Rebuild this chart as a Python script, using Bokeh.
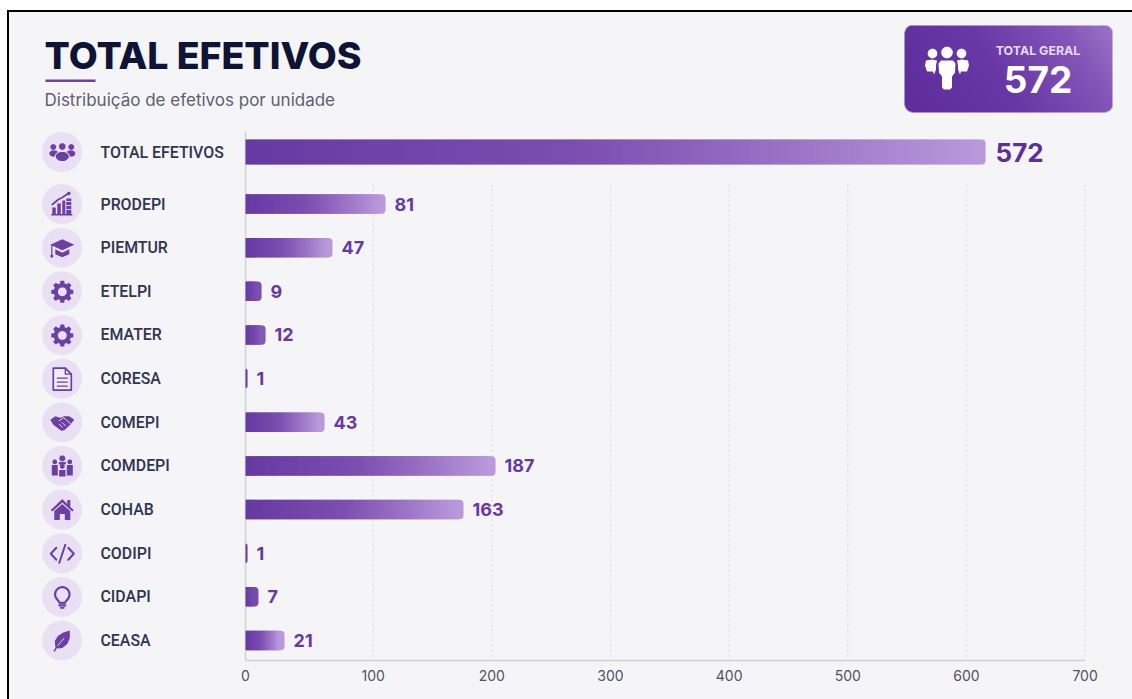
import numpy as np
from bokeh.plotting import figure
from bokeh.embed import file_html
from bokeh.resources import INLINE
from bokeh.core.properties import value
from bokeh.models import Range1d, FixedTicker, LinearAxis

# ---- data ----
units = ["TOTAL EFETIVOS", "PRODEPI", "PIEMTUR", "ETELPI", "EMATER", "CORESA",
         "COMEPI", "COMDEPI", "COHAB", "CODIPI", "CIDAPI", "CEASA"]
printed_values = [572, 81, 47, 9, 12, 1, 43, 187, 163, 1, 7, 21]
# bar lengths as drawn in the reference, read against its axis (they differ from the printed values)
bar_lengths = [623.7, 118.0, 73.3, 13.5, 16.9, 1.7, 66.6, 210.7, 183.7, 1.7, 10.9, 32.9]
tick_values = [100, 200, 300, 400, 500, 600, 700]
axis_origin = -7.6      # the "0" tick of the reference sits left of a straight 100..700 scale

# ---- layout ----
W, H = 1132, 699
PX_PER_UNIT = 1.1865
ROW_PX = 43.65
FRAME_BOTTOM = 660

def X(px):
    return 100 + (np.asarray(px, dtype=float) - 372.7) / PX_PER_UNIT

def Y(py):
    return 11 - (np.asarray(py, dtype=float) - 203.5) / ROW_PX

row_y = [11 + 52 / ROW_PX] + [11 - i for i in range(11)]
row_py = [203.5 + (11 - y) * ROW_PX for y in row_y]

p = figure(width=W, height=H, output_backend="svg", toolbar_location=None,
           x_range=Range1d(float(X(0)), float(X(W))),
           y_range=Range1d(float(Y(FRAME_BOTTOM)), float(Y(0))),
           min_border=0, min_border_bottom=H - FRAME_BOTTOM, outline_line_color=None,
           background_fill_color=None, border_fill_color=None,
           x_axis_location=None, y_axis_location=None)
p.grid.visible = False
# the screenshot's page edge: white margin and black rule on the left and top
p.styles = {"background": "linear-gradient(to right, #fff 0 7.5px, transparent 7.5px), "
                          "linear-gradient(to bottom, #fff 0 10px, #000 10px 12.3px, transparent 12.3px), "
                          "linear-gradient(to right, #000 0 9.3px, #f5f5f7 9.3px)"}

axis = LinearAxis(ticker=FixedTicker(ticks=[axis_origin] + tick_values),
                  major_label_overrides={axis_origin: "0"},
                  bounds=(axis_origin, 700), axis_line_color="#cfd0d8", axis_line_width=1.5,
                  major_tick_line_color=None, minor_tick_line_color=None,
                  major_label_text_font="Inter", major_label_text_font_size="14px",
                  major_label_text_color="#4f5263", major_label_standoff=3)
p.add_layout(axis, "below")

# grid and vertical axis line
p.segment(x0=tick_values, x1=tick_values, y0=[float(Y(184))] * 7, y1=[float(Y(FRAME_BOTTOM))] * 7,
          line_color="#d6d6e0", line_width=1, line_dash="2 3")
p.segment(x0=[axis_origin], x1=[axis_origin], y0=[float(Y(131))], y1=[float(Y(FRAME_BOTTOM))],
          line_color="#cfd0d8", line_width=1.5)

# ---- bars, sliced on whole pixels for the gradient ----
STOPS = np.array([0, .45, .72, 1.0])
RGB = np.array([[0x66, 0x3a, 0xa2], [0x7b, 0x4e, 0xb0], [0x98, 0x70, 0xc4], [0xb9, 0x99, 0xdb]], float)

def grad(t):
    return "#%02x%02x%02x" % tuple(int(round(np.interp(t, STOPS, RGB[:, c]))) for c in range(3))

BAR_PX0 = 245
for y, length in zip(row_y, bar_lengths):
    thick = (25 if y == row_y[0] else 19.5) / ROW_PX
    end = axis_origin + length
    px_len = length * PX_PER_UNIT
    t_max = min(1.0, px_len / 38)
    tip_px = min(px_len, 6)
    n = int(px_len - tip_px) // (2 if px_len > 300 else 1)
    if n > 0:
        s = (px_len - tip_px) / n
        edges = np.round(BAR_PX0 + s * np.arange(n + 1))
        colors = [grad(t_max * i / n) for i in range(n)]
        p.quad(left=X(edges[:-1]), right=X(edges[1:] + 1), top=[y + thick / 2] * n, bottom=[y - thick / 2] * n,
               fill_color=colors, line_color=None)
    p.quad(left=[end - tip_px / PX_PER_UNIT], right=[end], top=[y + thick / 2], bottom=[y - thick / 2],
           fill_color=grad(t_max), line_color=None, border_radius=(0, 4, 4, 0))

# ---- value labels ----
value_x = [axis_origin + l + 9 / PX_PER_UNIT for l in bar_lengths]
value_x[0] = axis_origin + bar_lengths[0] + 10 / PX_PER_UNIT
p.text(x=value_x[1:], y=row_y[1:], text=[str(v) for v in printed_values[1:]],
       text_font=value("Inter"), text_font_style="bold", text_font_size="18px",
       text_color="#6a37a3", text_baseline="middle", text_align="left")
p.text(x=value_x[:1], y=row_y[:1], text=[str(printed_values[0])],
       text_font=value("Inter"), text_font_style="bold", text_font_size="26px",
       text_color="#5d2f98", text_baseline="middle", text_align="left")

# ---- row labels and icon discs ----
p.text(x=[float(X(100))] * len(units), y=row_y, text=units, text_font=value("Roboto Medium"),
       text_font_size="15.9px", text_color="#2f3553",
       text_baseline="middle", text_align="left")
DISC = "#e9e0f3"
p.scatter(x=[float(X(61.5))] * len(units), y=row_y, size=40, marker="circle",
          fill_color=DISC, line_color=None)

ICON = "#6b3fa3"

def ell(cx, cy, rx, ry=None, n=28):
    ry = rx if ry is None else ry
    a = np.linspace(0, 2 * np.pi, n, endpoint=False)
    return list(zip(cx + rx * np.cos(a), cy + ry * np.sin(a)))

def rect(x0, y0, x1, y1):
    return [(x0, y0), (x1, y0), (x1, y1), (x0, y1)]

def gear():
    pts = []
    for k in range(8):
        a = k * np.pi / 4 - np.pi / 2
        for da, r in [(-.27, 8.6), (-.17, 11.2), (.17, 11.2), (.27, 8.6)]:
            pts.append((r * np.cos(a + da), r * np.sin(a + da)))
    return pts

def fill(pts, color=ICON):
    return ("f", pts, color)

def line(pts, w=1.6, color=ICON):
    return ("l", pts, color, w)

people = [fill(ell(-9, -5.5, 2.9)), fill(ell(0, -6, 3.3)), fill(ell(9, -5.5, 2.9)),
          fill(ell(-8.5, 1, 4.5, 3.2)), fill(ell(8.5, 1, 4.5, 3.2)),
          fill(ell(0, 4, 7.5, 5.4), DISC), fill(ell(0, 4, 6.5, 4.6))]
chart = [fill(rect(-10, 3, -6.5, 10)), fill(rect(-5, -1, -1.5, 10)), fill(rect(0, -4, 3, 10)),
         fill(rect(4, -6, 9, 10)), fill(rect(-11, 9.5, 10, 11)),
         line([(-10, 0), (-4, -5), (0, -7), (6, -11)], 1.7), fill(ell(6.5, -11, 1.8)),
         line([(4, -3), (9, -3)], .8, DISC), line([(4, 1), (9, 1)], .8, DISC), line([(4, 5), (9, 5)], .8, DISC)]
cap = [fill([(0, -9), (12, -3.5), (0, 2), (-12, -3.5)]),
       fill([(-7, 1), (0, 4.5), (7, 1), (7, 6), (0, 9), (-7, 6)]),
       line([(-10.5, -3), (-10.5, 7)], 1.2), fill(ell(-10.5, 8, 1.5))]
cog = [fill(gear()), fill(ell(0, 0, 4.4), DISC)]
doc = [fill([(-9, -11), (3, -11), (9, -5), (9, 11), (-9, 11)], "#f1ebf7"),
       line([(-9, -11), (3, -11), (9, -5), (9, 11), (-9, 11), (-9, -11)], 1.7),
       line([(3, -11), (3, -5), (9, -5)], 1.4),
       line([(-5, -1), (5, -1)], 1.4), line([(-5, 3), (5, 3)], 1.4), line([(-5, 7), (5, 7)], 1.4)]
hands = [fill([(-12, -3), (-7, -6.5), (-2, -5), (2, -6.5), (7, -6.5), (12, -3), (8, 2), (2, 7.5), (-1, 8),
               (-5, 5), (-9, 2)]),
         line([(-3, -2), (1, -5), (4, -3), (8, 1)], 1.0, DISC),
         line([(-3, 1.5), (0, 4.5)], 1.0, DISC), line([(0, 0), (3, 3)], 1.0, DISC)]
group = [fill(ell(0, -8, 3)), fill(ell(-7.5, -4.5, 2.4)), fill(ell(7.5, -4.5, 2.4)), fill(ell(0, 0, 2.4)),
         fill(rect(-10.5, -1.5, -4.5, 9)), fill(rect(4.5, -1.5, 10.5, 9)), fill(rect(-3.2, 3.5, 3.2, 10)),
         fill(rect(-3.5, -4.5, 3.5, -2))]
house = [fill([(-11.5, 0), (0, -11), (5, -6), (5, -10), (8, -10), (8, -3), (11.5, 0), (10, 1.5), (0, -7.5), (-10, 1.5)]),
         fill([(-8, 1), (0, -6), (8, 1), (8, 10), (2.5, 10), (2.5, 4), (-2.5, 4), (-2.5, 10), (-8, 10)])]
code = [line([(-6, -6), (-11.5, 0), (-6, 6)], 2), line([(3, -9), (-3, 9)], 2), line([(6, -6), (11.5, 0), (6, 6)], 2)]
bulb_arc = [(7.2 * np.cos(a), -3 + 7.2 * np.sin(a)) for a in np.linspace(np.pi * .75, np.pi * 2.25, 24)]
bulb = [line(bulb_arc + [(2.5, 5.5), (-2.5, 5.5)] + bulb_arc[:1], 2.2), line([(-3, 8), (3, 8)], 2.2), line([(-1.5, 10.5), (1.5, 10.5)], 1.8)]
leaf = [fill([(-7, 6), (-7.5, 0), (-4.5, -5), (1, -8.5), (7.5, -10.5), (7.5, -3), (5, 3), (0, 7), (-4, 7.5)]),
        line([(-8, 10), (-4.5, 4.5), (1.5, -2.5)], 1.4), line([(-4.5, 4.5), (1.5, -2.5)], .9, DISC)]
icons = [people, chart, cap, cog, cog, doc, hands, group, house, code, bulb, leaf]

def draw(prims, cx, cy, scale=1.0):
    for pr in prims:
        xs = X([cx + scale * q[0] for q in pr[1]])
        ys = Y([cy + scale * q[1] for q in pr[1]])
        if pr[0] == "f":
            p.patch(xs, ys, fill_color=pr[2], line_color=None)
        else:
            p.line(xs, ys, line_color=pr[2], line_width=pr[3], line_cap="round", line_join="round")

for prims, cy in zip(icons, row_py):
    draw(prims, 61.8, cy + 0.5)

# ---- header ----
p.text(x=[float(X(44))], y=[float(Y(55))], text=["TOTAL EFETIVOS"], text_font=value("Inter ExtraBold"),
       text_font_style="bold", text_font_size="37.5px", text_color="#0d1436", text_baseline="middle")
p.quad(left=X(45), right=X(95), top=Y(79), bottom=Y(81.5), fill_color="#6b3fa3", line_color=None)
p.text(x=[float(X(44))], y=[float(Y(99.5))], text=["Distribuição de efetivos por unidade"],
       text_font=value("Inter"), text_font_size="17px", text_color="#5c5f72", text_baseline="middle")

# ---- summary card ----
cx0, cx1, cy0, cy1 = 904, 1112, 25, 112
sc = 2
gw, gh = (cx1 - cx0) * sc, (cy1 - cy0) * sc
gx, gy = np.meshgrid((np.arange(gw) + .5) / sc, (np.arange(gh) + .5) / sc)  # gy counts from the bottom
t = (gx / (cx1 - cx0) * .78 + gy / (cy1 - cy0) * .22)
r = np.interp(t, [0, .45, .8, 1], [0x5e, 0x68, 0x84, 0x9c])
g = np.interp(t, [0, .45, .8, 1], [0x2c, 0x38, 0x56, 0x74])
b = np.interp(t, [0, .45, .8, 1], [0x9c, 0xa6, 0xb8, 0xc8])
rad = 8
dx = np.maximum(np.maximum(rad - gx, gx - (cx1 - cx0 - rad)), 0)
dy = np.maximum(np.maximum(rad - gy, gy - (cy1 - cy0 - rad)), 0)
alpha = np.clip((rad - np.hypot(dx, dy)) * sc + .5, 0, 1) * 255
img = (alpha.astype(np.uint32) << 24) | (b.astype(np.uint32) << 16) | (g.astype(np.uint32) << 8) | r.astype(np.uint32)
p.image_rgba(image=[img], x=float(X(cx0)), y=float(Y(cy1)), dw=float(X(cx1) - X(cx0)), dh=float(Y(cy0) - Y(cy1)))

WHITE = "#ffffff"
card_icon = [fill(ell(-14.5, -15, 4.8), WHITE), fill(ell(0, -16, 5.8), WHITE), fill(ell(14.5, -15, 4.8), WHITE),
             fill([(-21, -8), (-15, -9), (-10, -8), (-11, -3), (-11, 1), (-13, 6), (-14, 3), (-20, 3), (-22, -3)], WHITE),
             fill([(21, -8), (15, -9), (10, -8), (11, -3), (11, 1), (13, 6), (14, 3), (20, 3), (22, -3)], WHITE),
             fill([(-6, -8), (6, -8), (8.5, -5), (8, 4), (5, 8), (5, 19), (3, 21), (-3, 21), (-5, 19), (-5, 8), (-8, 4), (-8.5, -5)], WHITE)]
draw(card_icon, 946.5, 68)
p.text(x=[float(X(1037.5))], y=[float(Y(50))], text=["TOTAL GERAL"], text_font=value("Inter"), text_font_style="bold",
       text_font_size="12.4px", text_color="#e4daf0", text_align="center", text_baseline="middle")
p.text(x=[float(X(1037.5))], y=[float(Y(79))], text=[str(printed_values[0])], text_font=value("Inter"), text_font_style="bold",
       text_font_size="37px", text_color="#ffffff", text_align="center", text_baseline="middle")

open("out.html", "w").write(file_html(p, INLINE))
